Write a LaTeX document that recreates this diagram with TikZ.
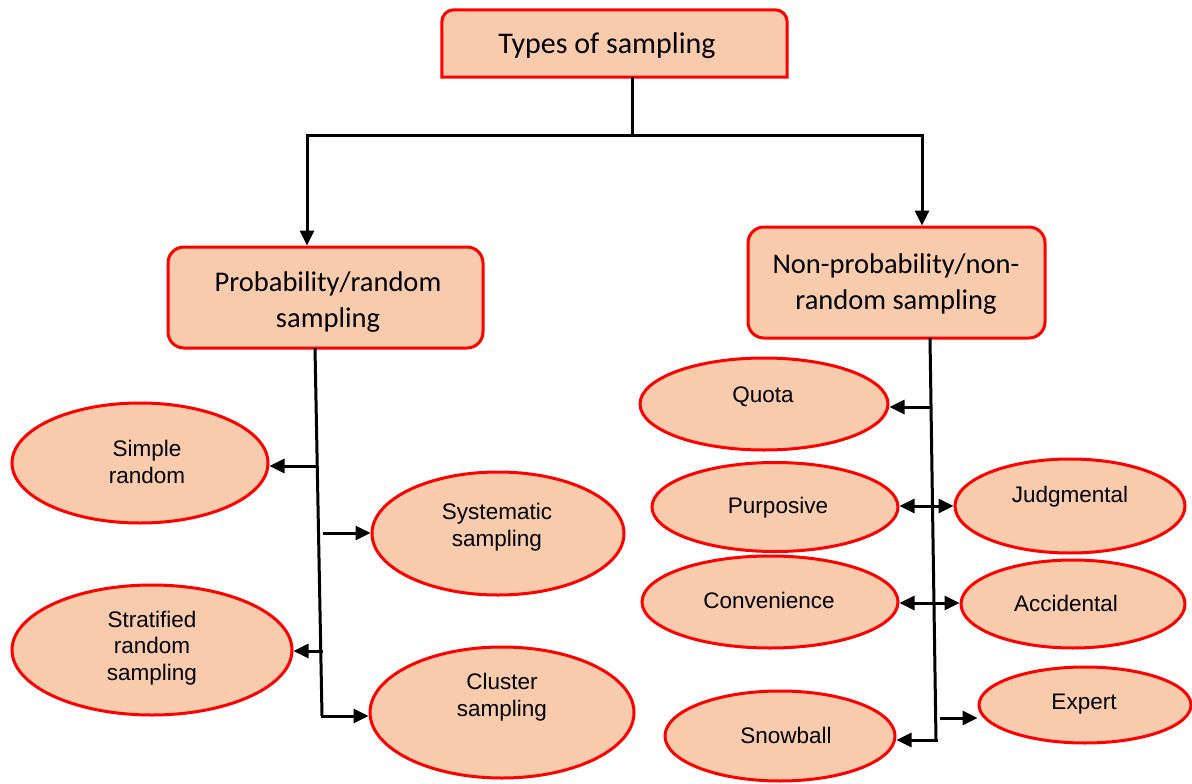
\documentclass[tikz,border=0pt]{standalone}
\usepackage{fontspec}
\usetikzlibrary{shapes.geometric,arrows.meta}
\newfontfamily\calfont{Carlito}
\newfontfamily\arialfont{Liberation Sans}
\definecolor{peach}{HTML}{F8CBAD}
\tikzset{
  boxshape/.style={draw=red, line width=3pt, fill=peach, rounded corners=16pt, inner sep=0pt},
  oval/.style={ellipse, draw=red, line width=3pt, fill=peach, inner sep=0pt},
  otext/.style={font=\arialfont\fontsize{22.5}{26.5}\selectfont, align=center, inner sep=0pt},
  btext/.style={font=\calfont\fontsize{28.5}{35.5}\selectfont, align=center, inner sep=0pt},
  conn/.style={line width=3pt, black},
  arr/.style={conn, -{Triangle[length=15pt,width=14pt]}},
  dbl/.style={conn, {Triangle[length=15pt,width=14pt]}-{Triangle[length=15pt,width=14pt]}},
}
\begin{document}
\begin{tikzpicture}[x=1pt,y=-1pt]
\useasboundingbox (0,0) rectangle (1192,784);

% root box: rounded at the top, square at the bottom
\node[inner sep=0pt, minimum width=345pt, minimum height=67pt] (top) at (614.5,43.5) {};
\draw[draw=red, line width=3pt, fill=peach]
  (top.south west) -- ([yshift=-12pt]top.north west)
  arc[start angle=180, end angle=90, radius=12pt]
  -- ([xshift=-12pt]top.north east)
  arc[start angle=90, end angle=0, radius=12pt]
  -- (top.south east) -- cycle;
\node[btext, font=\calfont\fontsize{30}{36}\selectfont] (toptxt) at (607,46) {Types of sampling};

% second level boxes
\node[boxshape, minimum width=315pt, minimum height=101pt] (prob) at (325.5,297.5) {};
\node[btext] (probtxt) at (328,302) {Probability/random\\sampling};
\node[boxshape, minimum width=297pt, minimum height=111pt] (nonp) at (896.5,282.5) {};
\node[btext] (nonptxt) at (896,284) {Non-probability/non-\\random sampling};

% probability methods
\node[oval, minimum width=256pt, minimum height=120pt] (sr) at (140,463) {};
\node[otext] (srt) at (147,462) {Simple\\random};
\node[oval, minimum width=252pt, minimum height=123pt] (sy) at (498,533.5) {};
\node[otext] (syt) at (497,527) {Systematic\\sampling};
\node[oval, minimum width=280pt, minimum height=130pt] (st) at (152,650) {};
\node[otext] (stt) at (152,648) {Stratified\\random\\sampling};
\node[oval, minimum width=264pt, minimum height=131pt] (cl) at (502,712.5) {};
\node[otext] (clt) at (502,697) {Cluster\\sampling};

% non-probability methods
\node[oval, minimum width=248pt, minimum height=92pt] (qu) at (764,404) {};
\node[otext] (qut) at (763,397) {Quota};
\node[oval, minimum width=246pt, minimum height=89pt] (pu) at (775,507) {};
\node[otext] (put) at (778,508) {Purposive};
\node[oval, minimum width=230pt, minimum height=94pt] (ju) at (1070,506) {};
\node[otext] (jut) at (1070,497) {Judgmental};
\node[oval, minimum width=256pt, minimum height=92pt] (co) at (770,602) {};
\node[otext] (cot) at (769,600) {Convenience};
\node[oval, minimum width=224pt, minimum height=88pt] (ac) at (1073,604) {};
\node[otext] (act) at (1066,603) {Accidental};
\node[oval, minimum width=212pt, minimum height=76pt] (ex) at (1085,705) {};
\node[otext] (ext) at (1084,704) {Expert};
\node[oval, minimum width=230pt, minimum height=90pt] (sn) at (780,736) {};
\node[otext] (snt) at (786,735) {Snowball};

% root to second level
\coordinate (hub) at (632,135);
\coordinate (jl) at (307,135);
\coordinate (jr) at (922,135);
\draw[conn] (hub |- top.south) -- (hub);
\draw[conn] ([xshift=-1.5pt]jl) -- ([xshift=1.5pt]jr);
\draw[arr] ([yshift=1.5pt]jl) -- (jl |- prob.north);
\draw[arr] ([yshift=1.5pt]jr) -- (jr |- nonp.north);

% left trunk and branches
\coordinate (lt0) at (315,348);
\coordinate (lt1) at (322,716);
\draw[conn] (lt0) -- (lt1);
\coordinate (lb1) at (317,466);
\coordinate (lb2) at (323,533);
\coordinate (lb3) at (323,651);
\draw[arr] (lb1) -- (lb1 -| sr.east);
\draw[arr] (lb2) -- (lb2 -| sy.west);
\draw[arr] (lb3) -- (lb3 -| st.east);
\draw[arr] ([xshift=-1.5pt]lt1) -- (lt1 -| cl.west);

% right trunk and branches
\coordinate (rt0) at (930,338);
\coordinate (rt1) at (936,740);
\draw[conn] (rt0) -- (rt1);
\coordinate (rb1) at (932,407);
\draw[arr] (rb1) -- (rb1 -| qu.east);
\draw[dbl] (pu.east |- 0,506) -- (ju.west |- 0,506);
\draw[dbl] (co.east |- 0,603) -- (ac.west |- 0,603);
\coordinate (rb4) at (940,718);
\draw[arr] (rb4) -- (ex.west |- rb4);
\draw[arr] ([xshift=1.5pt]rt1) -- (rt1 -| sn.east);
\end{tikzpicture}
\end{document}
